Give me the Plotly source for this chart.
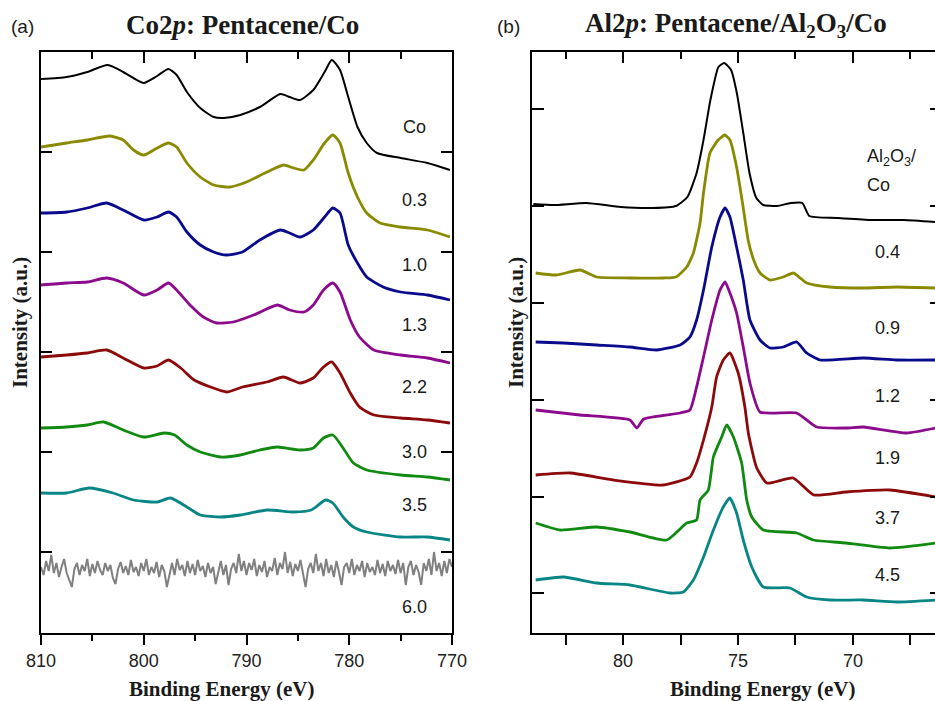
import plotly.graph_objects as go

# ---------------- data: panel (a) Co2p, binding energy (eV) / intensity (a.u., offset stacked)
co_x_co = [810, 807.5, 805.5, 803.5, 802, 801, 800, 798.7, 797.6, 796.8, 795.8, 794.5, 793.2, 792.2, 790.6, 788.7,
           786.7, 785.8, 784.8, 783.5, 782.4, 781.7, 780.9, 780.1, 779.2, 778.3, 777.3, 775, 772.4, 770.2]
co_i_co = [5.54, 5.56, 5.61, 5.68, 5.61, 5.55, 5.50, 5.57, 5.64, 5.58, 5.41, 5.25, 5.16, 5.15, 5.18, 5.26,
           5.39, 5.36, 5.33, 5.43, 5.61, 5.73, 5.63, 5.36, 5.06, 4.90, 4.80, 4.75, 4.70, 4.63]

co_x_03 = [810, 807.5, 805.5, 803.3, 802, 801, 800, 798.7, 797.6, 796.8, 795.8, 794.5, 793.2, 791.6, 790, 788,
           786.4, 785.4, 784.4, 783.5, 782.4, 781.6, 780.9, 780.1, 779.2, 778.3, 777, 775, 772.4, 770.2]
co_i_03 = [4.86, 4.90, 4.93, 4.97, 4.93, 4.83, 4.78, 4.85, 4.90, 4.86, 4.70, 4.56, 4.48, 4.46, 4.51, 4.61,
           4.68, 4.65, 4.63, 4.73, 4.90, 4.98, 4.90, 4.60, 4.36, 4.20, 4.10, 4.06, 4.03, 3.96]

co_x_10 = [810, 807.5, 805.5, 803.6, 802, 800, 798.7, 797.6, 796.8, 795.8, 794.5, 793.2, 792, 790.4, 788.7,
           786.7, 785.8, 784.8, 783.5, 782.4, 781.6, 780.9, 780.1, 779.2, 778.3, 776.7, 775, 772.4, 770.2]
co_i_10 = [4.20, 4.21, 4.25, 4.30, 4.23, 4.13, 4.16, 4.21, 4.16, 4.01, 3.88, 3.81, 3.78, 3.81, 3.93,
           4.03, 4.00, 3.96, 4.03, 4.16, 4.25, 4.20, 3.88, 3.70, 3.56, 3.46, 3.41, 3.38, 3.33]

co_x_13 = [810, 807.5, 805.5, 803.6, 802, 800, 798.7, 797.6, 796.8, 795.5, 794.2, 792.9, 791.3, 789.3, 787,
           785.8, 784.4, 783.5, 782.5, 781.6, 780.9, 779.9, 779, 777.6, 775, 772.4, 770.2]
co_i_13 = [3.48, 3.50, 3.51, 3.55, 3.50, 3.38, 3.43, 3.50, 3.43, 3.28, 3.16, 3.10, 3.11, 3.18, 3.28,
           3.23, 3.21, 3.28, 3.43, 3.50, 3.41, 3.13, 2.96, 2.83, 2.78, 2.75, 2.70]

co_x_22 = [810, 807.5, 805.5, 803.6, 802, 800, 798.7, 797.6, 796.4, 795.1, 793.5, 791.9, 790.4, 788, 786.4,
           784.8, 783.5, 782.5, 781.7, 780.9, 779.9, 779, 777.6, 775, 772.4, 770.2]
co_i_22 = [2.76, 2.78, 2.80, 2.83, 2.75, 2.65, 2.67, 2.73, 2.65, 2.53, 2.46, 2.41, 2.46, 2.51, 2.56,
           2.50, 2.55, 2.66, 2.71, 2.60, 2.40, 2.26, 2.18, 2.15, 2.13, 2.10]

co_x_30 = [810, 807.5, 805.5, 803.9, 802, 800, 798, 797, 795.8, 794.5, 792.5, 790.6, 788.7, 787, 784.8,
           783.5, 782.5, 781.6, 780.6, 779.6, 778.3, 775, 772.4, 770.2]
co_i_30 = [2.05, 2.06, 2.08, 2.11, 2.03, 1.96, 2.00, 1.98, 1.88, 1.81, 1.76, 1.78, 1.83, 1.86, 1.83,
           1.85, 1.95, 1.98, 1.85, 1.70, 1.63, 1.58, 1.56, 1.53]

co_x_35 = [810, 807.5, 805.3, 803, 801, 798.7, 797.4, 795.8, 794.5, 792.5, 790.6, 788, 785.4, 783.7,
           782.3, 781.6, 780.6, 779.6, 778.3, 775, 772.4, 770.2]
co_i_35 = [1.40, 1.40, 1.45, 1.40, 1.33, 1.31, 1.35, 1.26, 1.18, 1.16, 1.18, 1.23, 1.21, 1.23,
           1.33, 1.30, 1.16, 1.06, 1.01, 0.96, 0.96, 0.93]

co_x_60 = [810 - 0.25 * k for k in range(161)]
co_i_60 = [0.66, 0.58, 0.72, 0.62, 0.78, 0.60, 0.70, 0.56, 0.66, 0.74, 0.60, 0.52, 0.46, 0.64, 0.70, 0.58, 0.68, 0.62, 0.74, 0.57,
           0.69, 0.60, 0.72, 0.63, 0.58, 0.70, 0.62, 0.68, 0.55, 0.49, 0.64, 0.71, 0.60, 0.67, 0.58, 0.73, 0.61, 0.66, 0.57, 0.70,
           0.62, 0.74, 0.58, 0.66, 0.60, 0.71, 0.56, 0.68, 0.62, 0.46, 0.60, 0.70, 0.58, 0.74, 0.63, 0.68, 0.57, 0.72, 0.60, 0.69,
           0.58, 0.73, 0.62, 0.67, 0.56, 0.70, 0.60, 0.66, 0.49, 0.62, 0.72, 0.58, 0.68, 0.48, 0.64, 0.70, 0.60, 0.79, 0.62, 0.72,
           0.58, 0.70, 0.63, 0.74, 0.57, 0.68, 0.61, 0.72, 0.56, 0.66, 0.62, 0.75, 0.58, 0.70, 0.64, 0.81, 0.60, 0.71, 0.57, 0.69,
           0.62, 0.73, 0.58, 0.46, 0.64, 0.70, 0.60, 0.79, 0.62, 0.70, 0.57, 0.74, 0.60, 0.68, 0.56, 0.72, 0.61, 0.48, 0.66, 0.70,
           0.60, 0.74, 0.58, 0.68, 0.62, 0.72, 0.56, 0.70, 0.61, 0.66, 0.58, 0.73, 0.60, 0.69, 0.57, 0.72, 0.62, 0.68, 0.59, 0.73,
           0.60, 0.70, 0.48, 0.66, 0.72, 0.58, 0.68, 0.61, 0.48, 0.70, 0.62, 0.74, 0.58, 0.81, 0.62, 0.70, 0.57, 0.72, 0.60, 0.74,
           0.66]

co_labels = ["Co", "0.3", "1.0", "1.3", "2.2", "3.0", "3.5", "6.0"]

# ---------------- data: panel (b) Al2p
al_x_co = [83.9, 83.0, 81.6, 80.1, 78.7, 77.7, 77.2, 76.8, 76.5, 76.2, 75.85, 75.6, 75.3, 75.05, 74.77, 74.5,
           74.2, 73.9, 73.3, 72.7, 72.2, 71.9, 70.7, 69.3, 67.8, 66.4]
al_i_co = [4.29, 4.28, 4.30, 4.26, 4.25, 4.27, 4.36, 4.60, 4.93, 5.33, 5.66, 5.70, 5.63, 5.40, 5.00, 4.60,
           4.35, 4.28, 4.27, 4.30, 4.30, 4.17, 4.15, 4.13, 4.13, 4.11]

al_x_04 = [83.8, 82.9, 81.87, 81.14, 79.7, 78.25, 77.7, 77.23, 76.94, 76.65, 76.5, 76.22, 75.86, 75.57, 75.35,
           75.06, 74.77, 74.55, 74.3, 74.04, 73.61, 73.03, 72.59, 72.01, 71.0, 69.55, 68.1, 66.4]
al_i_04 = [3.60, 3.58, 3.63, 3.56, 3.55, 3.55, 3.56, 3.66, 3.80, 4.10, 4.40, 4.80, 4.93, 4.98, 4.93,
           4.66, 4.25, 3.92, 3.72, 3.60, 3.53, 3.56, 3.60, 3.50, 3.46, 3.45, 3.46, 3.45]

al_x_09 = [83.8, 82.59, 81.14, 79.7, 78.54, 77.52, 77.09, 76.8, 76.5, 76.14, 75.78, 75.56, 75.35, 75.06, 74.77,
           74.48, 74.04, 73.61, 73.03, 72.45, 72.01, 71.43, 69.55, 68.1, 66.4]
al_i_09 = [2.91, 2.90, 2.88, 2.86, 2.83, 2.88, 2.96, 3.13, 3.43, 3.86, 4.16, 4.25, 4.16, 3.86, 3.53,
           3.13, 2.93, 2.85, 2.86, 2.91, 2.80, 2.73, 2.75, 2.73, 2.73]

al_x_12 = [83.8, 81.87, 79.7, 79.4, 79.1, 77.52, 77.09, 76.8, 76.5, 76.14, 75.78, 75.56, 75.35, 75.06, 74.77,
           74.48, 74.04, 72.45, 71.58, 70.3, 69.55, 67.67, 66.4]
al_i_12 = [2.23, 2.18, 2.13, 2.05, 2.14, 2.20, 2.23, 2.46, 2.76, 3.13, 3.43, 3.51, 3.40, 3.20, 2.86,
           2.50, 2.21, 2.20, 2.06, 2.05, 2.06, 2.00, 2.05]

al_x_19 = [83.8, 82.3, 80.42, 78.25, 77.09, 76.8, 76.5, 76.14, 75.93, 75.64, 75.35, 74.99, 74.7, 74.55, 74.2,
           73.75, 72.6, 71.7, 70.3, 68.39, 66.4]
al_i_19 = [1.58, 1.60, 1.53, 1.48, 1.56, 1.70, 1.93, 2.26, 2.56, 2.73, 2.80, 2.60, 2.26, 2.00, 1.66,
           1.50, 1.55, 1.38, 1.41, 1.43, 1.36]

al_x_37 = [83.8, 82.74, 81.14, 79.7, 78.1, 77.23, 76.8, 76.65, 76.29, 76.07, 75.71, 75.49, 75.2, 74.84, 74.62,
           74.4, 73.9, 72.45, 71.72, 70.3, 68.39, 66.4]
al_i_37 = [1.10, 1.03, 1.06, 1.01, 0.93, 1.10, 1.13, 1.33, 1.43, 1.76, 1.96, 2.08, 1.96, 1.70, 1.33,
           1.16, 1.03, 1.00, 0.93, 0.90, 0.85, 0.90]

al_x_45 = [83.8, 82.59, 81.14, 79.7, 77.96, 77.38, 76.94, 76.5, 76.07, 75.64, 75.35, 75.06, 74.77, 74.4, 73.9,
           72.74, 72.01, 71.0, 69.55, 68.1, 66.4]
al_i_45 = [0.53, 0.56, 0.50, 0.48, 0.40, 0.41, 0.53, 0.76, 1.03, 1.26, 1.35, 1.20, 0.93, 0.66, 0.46,
           0.45, 0.36, 0.33, 0.33, 0.31, 0.33]

al_labels = ["0.4", "0.9", "1.2", "1.9", "3.7", "4.5"]

colors = ["#000000", "#8a8a00", "#0a0a8c", "#8c0a8c", "#8c0a0a", "#108a10", "#088585", "#808080"]

# ---------------- layout geometry (pixels of the 935x701 target)
W, H = 935, 701
ML, MR, MT, MB = 41, 0, 52, 68
PW = W - ML - MR
PH = H - MT - MB


def pxx(p):
    return (p - ML) / PW


def pxy(p):
    return (H - MB - p) / PH


fig = go.Figure()

co_series = [(co_x_co, co_i_co), (co_x_03, co_i_03), (co_x_10, co_i_10), (co_x_13, co_i_13),
             (co_x_22, co_i_22), (co_x_30, co_i_30), (co_x_35, co_i_35), (co_x_60, co_i_60)]
for k, (xs, ys) in enumerate(co_series):
    fig.add_trace(go.Scatter(x=xs, y=ys, mode="lines",
                             line=dict(color=colors[k], width=2 if k in (0, 7) else 2.8,
                                       shape="linear" if k == 7 else "spline", smoothing=0.6),
                             xaxis="x3" if k == 7 else "x", yaxis="y",
                             showlegend=False, hoverinfo="skip"))

al_series = [(al_x_co, al_i_co), (al_x_04, al_i_04), (al_x_09, al_i_09), (al_x_12, al_i_12),
             (al_x_19, al_i_19), (al_x_37, al_i_37), (al_x_45, al_i_45)]
for k, (xs, ys) in enumerate(al_series):
    xa = "x4" if k == 6 else "x2"
    ya = "y4" if k == 5 else "y2"
    fig.add_trace(go.Scatter(x=xs, y=ys, mode="lines",
                             line=dict(color=colors[k], width=2 if k == 0 else 2.8,
                                       shape="spline", smoothing=0.5),
                             xaxis=xa, yaxis=ya, showlegend=False, hoverinfo="skip"))

tickfont = dict(family="Liberation Sans, Arial", size=18, color="#222")
common = dict(showgrid=False, zeroline=False, linecolor="black", linewidth=2,
              tickcolor="black", tickwidth=2, tickfont=tickfont, automargin=False)

fig.update_layout(
    width=W, height=H, autosize=False,
    margin=dict(l=ML, r=MR, t=MT, b=MB, autoexpand=False),
    showlegend=False,
    paper_bgcolor="white", plot_bgcolor="white",
    xaxis=dict(domain=[0, pxx(452)], range=[810, 770], anchor="y", showline=True, mirror=True,
               ticks="outside", ticklen=10, tickvals=[810, 800, 790, 780, 770],
               minor=dict(ticks="outside", ticklen=6, tickwidth=2, tickcolor="black", dtick=5, tick0=0),
               **common),
    xaxis3=dict(overlaying="x", anchor="y", side="top", range=[810, 770], showline=False,
                ticks="inside", ticklen=11, tickvals=[810, 800, 790, 780, 770], showticklabels=False,
                minor=dict(ticks="inside", ticklen=7, tickwidth=2, tickcolor="black", dtick=5, tick0=0),
                **common),
    yaxis=dict(domain=[0, 1], range=[0, 5.81], anchor="x", showline=True, mirror="ticks",
               ticks="inside", ticklen=11, tickvals=[0.81, 1.81, 2.81, 3.81, 4.81],
               showticklabels=False, **common),
    xaxis2=dict(domain=[pxx(532), 1], range=[83.96, 66.43], anchor="y2", showline=True, mirror=True,
                ticks="outside", ticklen=10, tickvals=[80, 75, 70],
                minor=dict(ticks="outside", ticklen=10, tickwidth=2, tickcolor="black", dtick=2.5, tick0=0),
                **common),
    xaxis4=dict(overlaying="x2", anchor="y2", side="top", range=[83.96, 66.43], showline=False,
                ticks="inside", ticklen=11, tickvals=[80, 75, 70], showticklabels=False,
                minor=dict(ticks="inside", ticklen=7, tickwidth=2, tickcolor="black", dtick=2.5, tick0=0),
                **common),
    yaxis2=dict(domain=[0, 1], range=[0, 5.81], anchor="x2", showline=True, mirror=False,
                ticks="inside", ticklen=12, tickvals=[0.40, 1.36, 2.33, 3.30, 4.27, 5.24],
                showticklabels=False, **common),
    yaxis4=dict(overlaying="y2", anchor="x2", side="right", range=[0, 5.81], showline=False,
                ticks="inside", ticklen=5, tickvals=[0.40, 1.36, 2.33, 3.30, 4.27, 5.24],
                showticklabels=False, **common),
)

ann = []
serif = "Liberation Serif, Times New Roman, serif"
sans = "Liberation Sans, Arial, sans-serif"


def add(text, x, y, size, family, xanchor="center", angle=0):
    ann.append(dict(text=text, x=pxx(x), y=pxy(y), xref="paper", yref="paper", showarrow=False,
                    xanchor=xanchor, yanchor="middle", textangle=angle,
                    font=dict(family=family, size=size, color="#1a1a1a")))


add("(a)", 22, 26, 19, sans)
add("(b)", 508, 26, 19, sans)
add("<b>Co2<i>p</i>: Pentacene/Co</b>", 242, 25, 27, serif)
add("<b>Al2<i>p</i>: Pentacene/Al<sub>2</sub>O<sub>3</sub>/Co</b>", 736, 25, 27, serif)
add("<b>Intensity (a.u.)</b>", 20, 323, 21, serif, angle=-90)
add("<b>Intensity (a.u.)</b>", 516, 323, 21, serif, angle=-90)
add("<b>Binding Energy (eV)</b>", 222, 689, 21, serif)
add("<b>Binding Energy (eV)</b>", 763, 689, 21, serif)

co_label_y = [127, 200, 265, 325, 387, 452, 505, 607]
for t, yy in zip(co_labels, co_label_y):
    add(t, 414, yy, 18, sans)

add("Al<sub>2</sub>O<sub>3</sub>/", 865, 157, 18, sans, xanchor="left")
add("Co", 865, 185, 18, sans, xanchor="left")
al_label_y = [252, 328, 396, 458, 518, 575]
for t, yy in zip(al_labels, al_label_y):
    add(t, 887, yy, 18, sans)

fig.update_layout(annotations=ann)
fig.write_html("out.html")
